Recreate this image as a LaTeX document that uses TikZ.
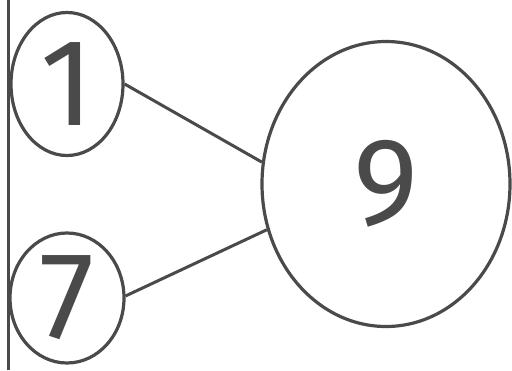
\documentclass[tikz,border=0pt]{standalone}
\usepackage{fontspec}
\setmainfont{Fira Sans}
\usetikzlibrary{shapes.geometric}
\definecolor{Ink}{HTML}{4A4A4A}
\tikzset{
 bond/.style={ellipse,draw=Ink,line width=3.2pt,inner sep=0pt,text=Ink,
   font=\fontsize{124}{124}\selectfont},
 link/.style={draw=Ink,line width=3pt}
}
\begin{document}
\begin{tikzpicture}[x=1pt,y=-1pt]
\useasboundingbox[fill=white] (0,0) rectangle (512,370);
\coordinate (ltop) at (8,0);
\coordinate (lbot) at (8,370);
\draw[link] (ltop)--(lbot);
\node[bond,minimum width=112pt,minimum height=143pt] (one) at (67,84) {1};
\node[bond,minimum width=114pt,minimum height=130pt] (seven) at (67,298) {7};
\node[bond,minimum width=248pt,minimum height=285pt] (nine) at (386,184) {9};
\foreach \a/\b in {one.0/nine.170,seven.2/nine.201} \draw[link] (\a)--(\b);
\end{tikzpicture}
\end{document}
